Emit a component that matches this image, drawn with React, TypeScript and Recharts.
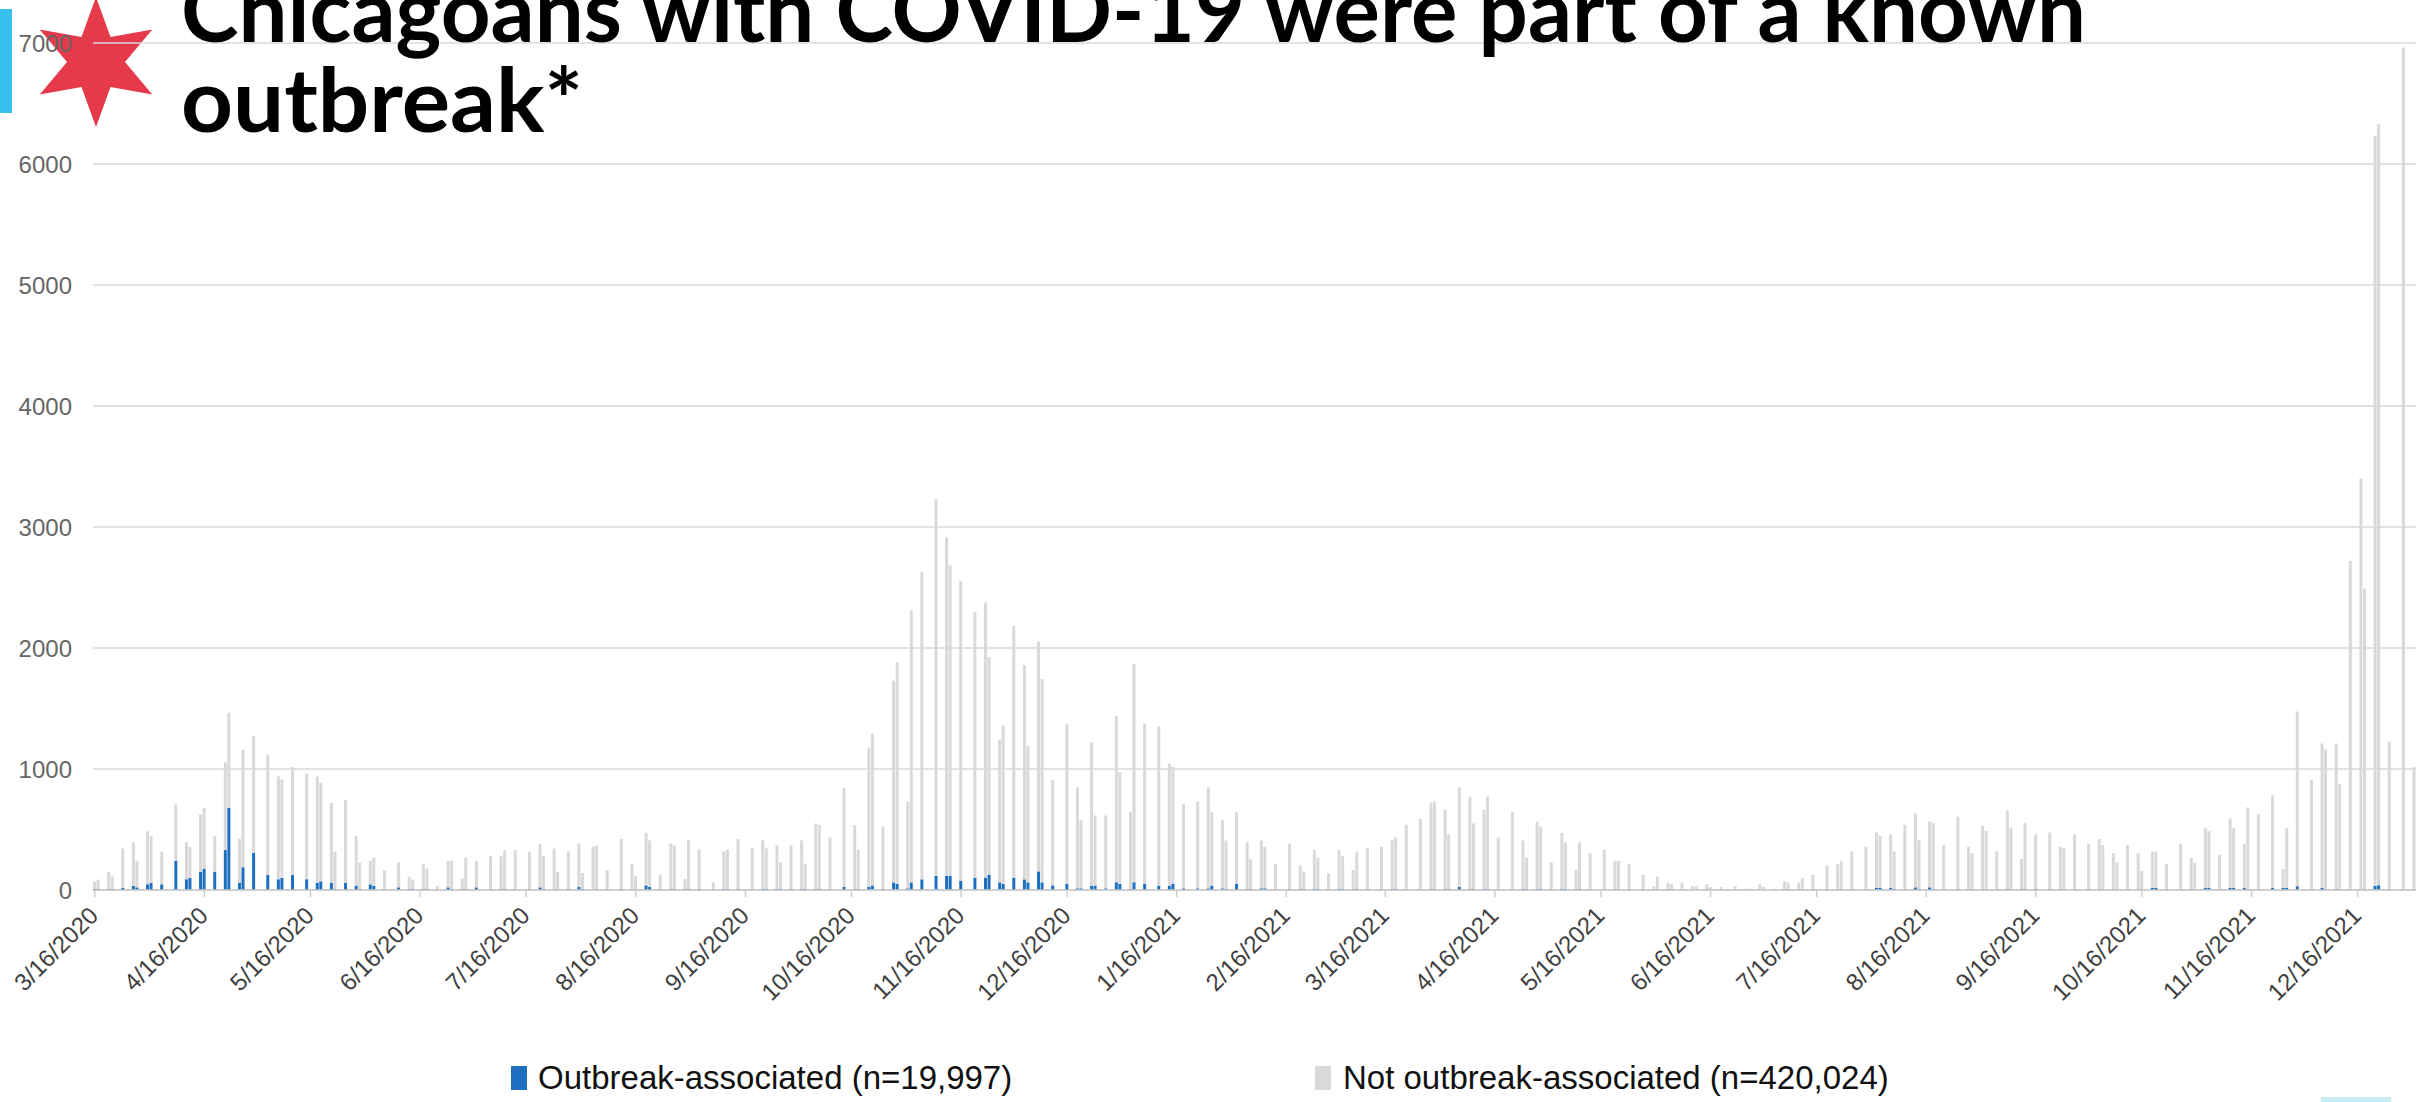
import React from 'react';
import { BarChart, Bar, XAxis, YAxis, CartesianGrid } from 'recharts';

// ---- categories: one per day, 3/16/2020 .. 1/1/2022 ----
const FIRST_DAY = Date.UTC(2020, 2, 16);
const DAY_MS = 86400000;
const DAY_COUNT = 657;
const formatDate = (i: number) => {
  const d = new Date(FIRST_DAY + i * DAY_MS);
  return `${d.getUTCMonth() + 1}/${d.getUTCDate()}/${d.getUTCFullYear()}`;
};
const categories: string[] = Array.from({ length: DAY_COUNT }, (_, i) => formatDate(i));

// ---- tick labels ----
const tickLabels = [
  '3/16/2020', '4/16/2020', '5/16/2020', '6/16/2020', '7/16/2020', '8/16/2020', '9/16/2020',
  '10/16/2020', '11/16/2020', '12/16/2020', '1/16/2021', '2/16/2021', '3/16/2021', '4/16/2021',
  '5/16/2021', '6/16/2021', '7/16/2021', '8/16/2021', '9/16/2021', '10/16/2021', '11/16/2021',
  '12/16/2021',
];
const yTicks = [0, 1000, 2000, 3000, 4000, 5000, 6000, 7000];

// ---- visible bars: day offset from 3/16/2020 ----
const barDay = [
  0, 1, 4, 5, 8, 11, 12, 15, 16, 19, 23, 26, 27, 30, 31, 34, 37, 38, 41, 42,
  45, 49, 52, 53, 56, 60, 63, 64, 67, 68, 71, 74, 75, 78, 79, 82, 86, 89, 90, 93,
  94, 97, 100, 101, 104, 105, 108, 112, 115, 116, 119, 123, 126, 127, 130, 131,
  134, 137, 138, 141, 142, 145, 149, 152, 153, 156, 157, 160, 163, 164, 167, 168, 171, 175, 178, 179,
  182, 186, 189, 190, 193, 194, 197, 200, 201, 204, 205, 208, 212, 215, 216, 219, 220, 223, 226, 227,
  230, 231, 234, 238, 241, 242, 245, 249, 252, 253, 256, 257, 260, 263, 264, 267, 268, 271, 275,
  278, 279, 282, 283, 286, 289, 290, 293, 294, 297, 301, 304, 305, 308, 312, 315, 316, 319, 320, 323,
  326, 327, 330, 331, 334, 338, 341, 342, 345, 346, 349, 352, 353, 356, 357, 360, 364, 367, 368, 371,
  375, 378, 379, 382, 383, 386, 389, 390, 393, 394, 397, 401, 404, 405, 408, 409, 412, 415, 416, 419,
  420,
  423, 427, 430, 431, 434, 438, 441, 442, 445, 446, 449, 452, 453, 456, 457, 460, 464, 467, 468, 471,
  472, 475, 478, 479, 482, 483, 486, 490, 493, 494, 497, 501, 504, 505, 508, 509, 512, 515, 516, 519,
  520, 523, 527, 530, 531, 534, 535, 538, 541, 542, 545, 546, 549, 553, 556, 557, 560, 564, 567, 568,
  571, 572, 575, 578, 579, 582, 583, 586, 590, 593, 594, 597, 598, 601, 604, 605, 608, 609, 612, 616,
  619, 620, 623, 627, 630, 631, 634, 635, 638, 641, 642, 645, 646, 649, 653, 656,
];

const outbreak = [
  10, 10, 8, 8, 19, 33, 22, 47, 58, 47, 241, 89, 100, 152, 177, 152, 330, 679, 61, 188,
  307, 125, 89, 100, 125, 89, 61, 72, 61, 10, 61, 36, 10, 47, 33, 5, 22, 10, 8, 10,
  10, 0, 22, 10, 10, 10, 22, 5, 10, 10, 5, 10, 22, 10, 5, 5,
  10, 25, 10, 5, 5, 5, 10, 5, 3, 38, 25, 5, 10, 10, 10, 10, 10, 5, 10, 8,
  10, 5, 10, 10, 10, 10, 10, 8, 8, 10, 10, 5, 25, 8, 8, 25, 38, 10, 63, 50,
  14, 63, 88, 116, 116, 116, 77, 102, 102, 127, 63, 50, 102, 88, 63, 154, 63, 38, 50,
  14, 14, 36, 36, 14, 64, 50, 8, 64, 50, 36, 36, 50, 14, 14, 14, 36, 14, 10, 50,
  8, 8, 14, 14, 5, 10, 8, 8, 10, 10, 5, 10, 10, 8, 8, 5, 5, 10, 10, 5,
  5, 8, 8, 8, 8, 25, 10, 10, 10, 10, 5, 5, 8, 8, 10, 10, 5, 10, 10, 8,
  8,
  5, 5, 5, 5, 5, 5, 3, 5, 5, 5, 3, 3, 3, 5, 3, 3, 3, 2, 2, 3,
  3, 2, 5, 5, 3, 3, 5, 3, 5, 5, 5, 5, 17, 17, 17, 10, 5, 22, 10, 22,
  10, 5, 10, 5, 5, 5, 5, 5, 10, 5, 8, 8, 10, 10, 5, 5, 5, 5, 5, 5,
  5, 5, 5, 5, 5, 17, 17, 5, 5, 5, 5, 17, 17, 5, 17, 17, 17, 5, 5, 17,
  17, 17, 31, 5, 17, 5, 10, 5, 5, 5, 5, 35, 40, 5, 5, 5,
];

const notOutbreak = [
  59, 76, 142, 103, 324, 363, 219, 438, 388, 271, 465, 307, 255, 474, 502, 294, 725, 786, 360, 970,
  967, 994, 850, 814, 892, 875, 878, 814, 659, 308, 684, 410, 217, 194, 233, 158, 205, 101, 78, 203,
  167, 33, 219, 231, 87, 256, 219, 275, 270, 320, 325, 308, 360, 270, 338, 145,
  309, 360, 130, 353, 364, 160, 411, 212, 113, 435, 385, 122, 375, 359, 81, 400, 323, 58, 309, 325,
  411, 339, 400, 334, 359, 218, 359, 402, 209, 540, 526, 430, 820, 528, 325, 1152, 1255, 515, 1667, 1834,
  715, 2248, 2542, 3114, 2797, 2566, 2476, 2195, 2272, 1799, 1180, 1309, 2080, 1772, 1128, 1898, 1681, 870, 1320,
  834, 563, 1185, 580, 602, 1375, 925, 636, 1803, 1326, 1315, 1005, 967, 693, 718, 834, 608, 563, 399, 594,
  387, 246, 395, 342, 210, 374, 194, 144, 321, 258, 133, 321, 269, 158, 310, 340, 351, 399, 424, 534,
  583, 713, 724, 658, 453, 823, 761, 540, 656, 761, 429, 639, 401, 260, 554, 515, 224, 462, 385, 158,
  387,
  302, 328, 237, 237, 209, 120, 30, 106, 56, 42, 58, 30, 30, 42, 22, 22, 30, 9, 9, 44,
  22, 9, 67, 56, 58, 97, 120, 200, 209, 237, 314, 353, 458, 430, 444, 309, 534, 609, 401, 545,
  543, 367, 596, 353, 301, 523, 484, 314, 648, 509, 248, 545, 451, 465, 353, 339, 456, 378, 417, 367,
  301, 220, 367, 301, 153, 300, 300, 209, 378, 259, 220, 494, 469, 287, 575, 494, 366, 678, 623, 766,
  158, 494, 1444, 905, 1194, 1156, 1201, 872, 2715, 3395, 2486, 6197, 6288, 1220, 6957, 1012,
];

type Row = { date: string; outbreak: number; notOutbreak: number };
const data: Row[] = categories.map((date) => ({ date, outbreak: 0, notOutbreak: 0 }));
barDay.forEach((day, k) => {
  data[day].outbreak = outbreak[k];
  data[day].notOutbreak = notOutbreak[k];
});

// ---- styles ----
const FONT = '"Liberation Sans", Arial, sans-serif';
const BLUE = '#1F6FC1';
const GRAY = '#D9D9D9';
const tickSet = new Set(tickLabels);

const XTick = (props: any) => {
  const { x, y, payload } = props;
  if (!tickSet.has(payload.value)) return null;
  return (
    <g>
      <line x1={x} x2={x} y1={y - 7} y2={y} stroke="#cfcfcf" strokeWidth={1.5} />
      <g transform={`translate(${x + 5},${y + 20})`}>
        <text transform="rotate(-45)" textAnchor="end" fontSize={24} fill="#404040" fontFamily={FONT}>
          {payload.value}
        </text>
      </g>
    </g>
  );
};

const starPath = (cx: number, cy: number, R: number, r: number) => {
  const pts: string[] = [];
  for (let k = 0; k < 12; k++) {
    const a = (-90 + k * 30) * (Math.PI / 180);
    const rad = k % 2 === 0 ? R : r;
    pts.push(`${(cx + rad * Math.cos(a)).toFixed(2)},${(cy + rad * Math.sin(a)).toFixed(2)}`);
  }
  return `M${pts.join('L')}Z`;
};

export default function App() {
  return (
    <div style={{ position: 'absolute', left: 0, top: 0, width: 2420, height: 1102, overflow: 'hidden', background: '#fff' }}>
      <svg width={2420} height={1102} style={{ position: 'absolute', left: 0, top: 0 }}>
        <rect x={0} y={9} width={12} height={104} fill="#35C0EE" />
        <path d={starPath(96, 62, 65, 29)} fill="#E63A4B" />
      </svg>
      <div style={{ position: 'absolute', left: 0, top: 0 }}>
        <BarChart
          width={2420}
          height={1102}
          data={data}
          margin={{ top: 43, right: 4, bottom: 0, left: 0 }}
          barSize={3}
        >
          <CartesianGrid vertical={false} stroke="#d9d9d9" strokeWidth={1.5} />
          <XAxis
            dataKey="date"
            type="category"
            ticks={tickLabels}
            interval={0}
            height={212}
            tick={XTick}
            tickLine={false}
            tickSize={7}
            tickMargin={0}
            axisLine={{ stroke: '#c8c8c8', strokeWidth: 1.5 }}
          />
          <YAxis
            domain={[0, 7000]}
            ticks={yTicks}
            width={93}
            axisLine={false}
            tickLine={false}
            tickSize={0}
            tickMargin={21}
            interval={0}
            tick={{ fontSize: 24, fill: '#666666', fontFamily: FONT }}
          />
          <Bar dataKey="outbreak" stackId="s" fill={BLUE} isAnimationActive={false} />
          <Bar dataKey="notOutbreak" stackId="s" fill={GRAY} isAnimationActive={false} />
        </BarChart>
      </div>
      <svg width={2420} height={1102} style={{ position: 'absolute', left: 0, top: 0, pointerEvents: 'none' }}>
        <text x={181} y={42} fontSize={88} fontWeight={700} fontFamily="Lato, sans-serif" fill="#000" textLength={1905} lengthAdjust="spacingAndGlyphs">
          Chicagoans with COVID-19 were part of a known
        </text>
        <text x={181} y={132} fontSize={88} fontWeight={700} fontFamily="Lato, sans-serif" fill="#000" textLength={402} lengthAdjust="spacingAndGlyphs">
          outbreak*
        </text>
        <rect x={511} y={1066} width={16} height={24} fill={BLUE} />
        <text x={538} y={1089} fontSize={33} fontFamily={FONT} fill="#111">Outbreak-associated (n=19,997)</text>
        <rect x={1315} y={1066} width={16} height={24} fill={GRAY} />
        <text x={1343} y={1089} fontSize={33} fontFamily={FONT} fill="#111">Not outbreak-associated (n=420,024)</text>
        <rect x={2321} y={1097} width={70} height={5} fill="#CBEBF7" />
      </svg>
    </div>
  );
}
